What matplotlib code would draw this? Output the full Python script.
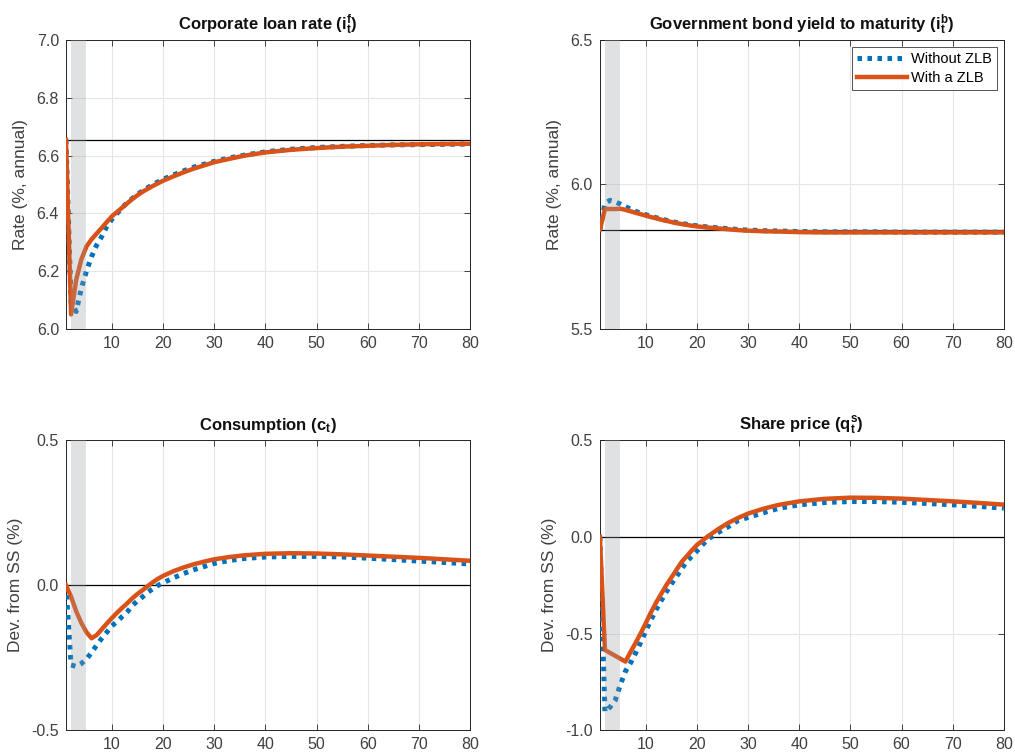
import matplotlib
matplotlib.use("Agg")
import matplotlib.pyplot as plt

plt.rcParams["font.family"] = ["Liberation Sans", "DejaVu Sans"]
plt.rcParams["mathtext.fontset"] = "custom"
plt.rcParams["mathtext.rm"] = "Liberation Sans"
plt.rcParams["mathtext.it"] = "Liberation Sans:italic"
plt.rcParams["mathtext.bf"] = "Liberation Sans:bold"

# quarters after the shock
periods = [1, 2, 3, 4, 5, 6, 7, 8, 9, 10, 11, 12, 13, 14, 15, 16, 17, 18, 19, 20,
           22, 24, 26, 28, 30, 33, 36, 40, 45, 50, 55, 60, 65, 70, 75, 80]

# corporate loan rate, % annual
loan_nozlb = [6.655, 6.09, 6.06, 6.14, 6.20, 6.25, 6.29, 6.32, 6.355, 6.38,
              6.40, 6.42, 6.437, 6.452, 6.466, 6.478, 6.489, 6.50, 6.509, 6.518,
              6.533, 6.547, 6.56, 6.57, 6.58, 6.592, 6.602, 6.613, 6.622, 6.628,
              6.632, 6.635, 6.637, 6.638, 6.639, 6.64]
loan_zlb = [6.655, 6.05, 6.17, 6.24, 6.285, 6.31, 6.33, 6.35, 6.37, 6.39,
            6.405, 6.42, 6.435, 6.45, 6.463, 6.475, 6.485, 6.495, 6.504, 6.513,
            6.528, 6.542, 6.555, 6.566, 6.577, 6.589, 6.60, 6.611, 6.62, 6.626,
            6.631, 6.634, 6.637, 6.639, 6.64, 6.641]
loan_ss = 6.655

# government bond yield to maturity, % annual
bond_nozlb = [5.843, 5.935, 5.945, 5.94, 5.932, 5.923, 5.915, 5.907, 5.90, 5.895,
              5.89, 5.885, 5.88, 5.876, 5.872, 5.868, 5.865, 5.862, 5.859, 5.857,
              5.853, 5.85, 5.847, 5.844, 5.842, 5.84, 5.839, 5.837, 5.836, 5.836,
              5.836, 5.835, 5.835, 5.835, 5.835, 5.835]
bond_zlb = [5.843, 5.915, 5.915, 5.915, 5.916, 5.912, 5.907, 5.902, 5.897, 5.892,
            5.887, 5.883, 5.878, 5.874, 5.87, 5.866, 5.863, 5.86, 5.857, 5.855,
            5.851, 5.848, 5.845, 5.842, 5.84, 5.838, 5.837, 5.835, 5.834, 5.834,
            5.834, 5.834, 5.834, 5.834, 5.834, 5.834]
bond_ss = 5.843

# consumption, % deviation from steady state
cons_nozlb = [0.0, -0.275, -0.28, -0.27, -0.255, -0.232, -0.207, -0.183, -0.162, -0.14,
              -0.125, -0.108, -0.092, -0.07, -0.054, -0.04, -0.025, -0.012, -0.001, 0.008,
              0.025, 0.04, 0.053, 0.064, 0.075, 0.085, 0.092, 0.097, 0.099, 0.099,
              0.097, 0.093, 0.088, 0.083, 0.078, 0.073]
cons_zlb = [0.0, -0.04, -0.09, -0.13, -0.162, -0.183, -0.172, -0.152, -0.132, -0.113,
            -0.095, -0.078, -0.062, -0.045, -0.03, -0.017, -0.003, 0.01, 0.022, 0.032,
            0.048, 0.061, 0.072, 0.081, 0.089, 0.097, 0.103, 0.108, 0.11, 0.109,
            0.106, 0.102, 0.098, 0.094, 0.089, 0.084]

# share price, % deviation from steady state
share_nozlb = [0.0, -0.905, -0.88, -0.845, -0.765, -0.695, -0.652, -0.60, -0.545, -0.485,
               -0.43, -0.377, -0.33, -0.285, -0.243, -0.205, -0.165, -0.128, -0.10, -0.073,
               -0.015, 0.02, 0.05, 0.083, 0.10, 0.124, 0.147, 0.165, 0.177, 0.182,
               0.182, 0.178, 0.172, 0.165, 0.157, 0.148]
share_zlb = [0.0, -0.585, -0.60, -0.615, -0.63, -0.645, -0.595, -0.548, -0.498, -0.445,
             -0.39, -0.34, -0.295, -0.25, -0.21, -0.17, -0.13, -0.10, -0.07, -0.042,
             0.0, 0.037, 0.07, 0.097, 0.12, 0.145, 0.165, 0.183, 0.196, 0.202,
             0.201, 0.197, 0.19, 0.183, 0.175, 0.166]

zlb_window = (2, 5)

BLUE = "#0072BD"
ORANGE = "#D95319"
AX_COL = "#262626"

panels = [
    (r"Corporate loan rate ($\mathbf{i^f_t}$)", loan_nozlb, loan_zlb, loan_ss,
     (6.0, 7.0), [6.0, 6.2, 6.4, 6.6, 6.8, 7.0], "Rate (%, annual)"),
    (r"Government bond yield to maturity ($\mathbf{i^b_t}$)", bond_nozlb, bond_zlb, bond_ss,
     (5.5, 6.5), [5.5, 6.0, 6.5], "Rate (%, annual)"),
    (r"Consumption ($\mathbf{c_t}$)", cons_nozlb, cons_zlb, 0.0,
     (-0.5, 0.5), [-0.5, 0.0, 0.5], "Dev. from SS (%)"),
    (r"Share price ($\mathbf{q^s_t}$)", share_nozlb, share_zlb, 0.0,
     (-1.0, 0.5), [-1.0, -0.5, 0.0, 0.5], "Dev. from SS (%)"),
]

positions = [
    [0.065, 0.565, 0.398, 0.382],
    [0.591, 0.565, 0.398, 0.382],
    [0.065, 0.034, 0.398, 0.384],
    [0.591, 0.034, 0.398, 0.384],
]

fig = plt.figure(figsize=(10.15, 7.56), dpi=100)

for i, (title, nozlb, zlb, ss, ylim, yticks, ylabel) in enumerate(panels):
    ax = fig.add_axes(positions[i])
    ax.axhline(ss, color="black", lw=0.9, zorder=2)
    ax.plot(periods, nozlb, color=BLUE, lw=3.6, ls=(0, (0.9, 1.1)),
            label="Without ZLB", zorder=3)
    ax.plot(periods, zlb, color=ORANGE, lw=3.2, solid_joinstyle="round",
            label="With a ZLB", zorder=4)
    ax.axvspan(*zlb_window, color="#9b9da2", alpha=0.3, lw=0, zorder=5)

    ax.set_xlim(1, 80)
    ax.set_ylim(*ylim)
    ax.set_xticks(range(10, 81, 10))
    ax.set_yticks(yticks)
    ax.set_yticklabels([f"{v:.1f}" for v in yticks])
    ax.grid(True, color="#e6e6e6", lw=0.8, zorder=0)
    ax.set_axisbelow(True)
    ax.tick_params(direction="in", length=4, width=0.6, colors=AX_COL,
                   labelcolor="#404040", labelsize=11.5, top=True, right=True, pad=5)
    for s in ax.spines.values():
        s.set_color(AX_COL)
        s.set_linewidth(0.7)
    ax.set_ylabel(ylabel, fontsize=12.5, color="#404040", labelpad=6)
    ax.set_title(title, fontsize=12, fontweight="bold", color="#111111", pad=7)

    if i == 1:
        leg = ax.legend(loc="upper right", fontsize=10.5, frameon=True, fancybox=False,
                        handlelength=3.4, borderaxespad=0.5, borderpad=0.35,
                        labelspacing=0.3, handletextpad=0.25)
        leg.get_frame().set_edgecolor(AX_COL)
        leg.get_frame().set_linewidth(0.7)

fig.savefig("out.png", dpi=100)
